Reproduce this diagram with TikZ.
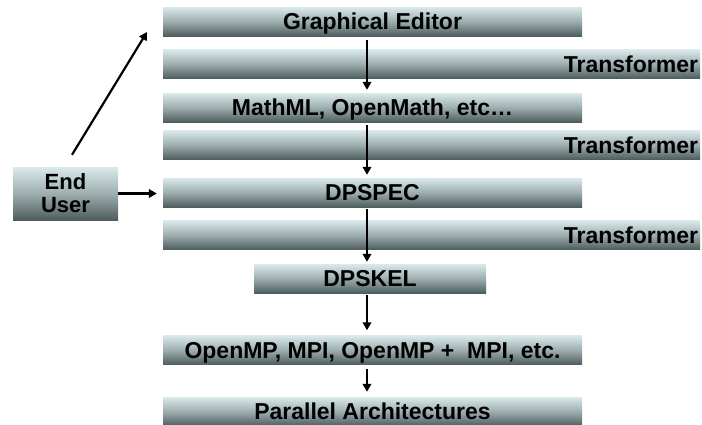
\documentclass[tikz,border=0pt]{standalone}
\usepackage{fontspec}
\setmainfont{Liberation Sans}
\usetikzlibrary{arrows.meta,calc}
\begin{document}
\begin{tikzpicture}[x=1pt,y=-1pt,
  bar/.style={rectangle, inner sep=0pt, minimum height=29pt,
    top color=barTop, bottom color=barBot, middle color=barMid,
    font=\fontsize{23}{25}\selectfont\bfseries, text height=16pt, text depth=0pt},
  wide/.style={bar, minimum width=419pt},
  trans/.style={bar, minimum width=537pt, text width=533pt, align=right},
  arr/.style={-{Triangle[length=8pt,width=8.5pt]}, line width=2.2pt, black}
]
\definecolor{barTop}{RGB}{218,233,235}
\definecolor{barMid}{RGB}{158,174,175}
\definecolor{barBot}{RGB}{78,93,93}
\useasboundingbox (0,0) rectangle (702,424);
\fill[white] (0,0) rectangle (702,424);

\node[wide] (ge) at (372.5,21.5) {Graphical Editor};
\node[trans] (t1) at (431.5,64) {Transformer};
\node[wide] (ml) at (372.5,107.5) {MathML, OpenMath, etc\ldots};
\node[trans] (t2) at (431.5,145) {Transformer};
\node[wide] (spec) at (372.5,192.5) {DPSPEC};
\node[trans] (t3) at (431.5,235) {Transformer};
\node[bar, minimum width=232pt] (skel) at (370,278.5) {DPSKEL};
\node[wide] (omp) at (372.5,350) {OpenMP, MPI, OpenMP +\ \ MPI, etc.};
\node[wide] (pa) at (372.5,411.5) {Parallel Architectures};

\node[bar, minimum width=105pt, minimum height=53pt, align=center,
  text height=, text depth=, font=\fontsize{22}{23}\selectfont\bfseries] (eu) at (65.5,193.5) {End\\User};

\coordinate (ax) at (367,0);
\coordinate (gehead) at (147,32);

\draw[arr] ([xshift=6.5pt,yshift=12pt]eu.north) -- (gehead);
\draw[arr] (eu.east) -- ([xshift=-6pt]spec.west |- eu.east);

\draw[arr, shorten <=4pt, shorten >=3pt] (ge.south -| ax) -- (ml.north -| ax);
\draw[arr, shorten <=3pt, shorten >=3pt] (ml.south -| ax) -- (spec.north -| ax);
\draw[arr, shorten <=2pt, shorten >=2pt] (spec.south -| ax) -- (skel.north -| ax);
\draw[arr, shorten <=2pt, shorten >=5pt] (skel.south -| ax) -- (omp.north -| ax);
\draw[arr, shorten <=4pt, shorten >=5pt] (omp.south -| ax) -- (pa.north -| ax);
\end{tikzpicture}
\end{document}
